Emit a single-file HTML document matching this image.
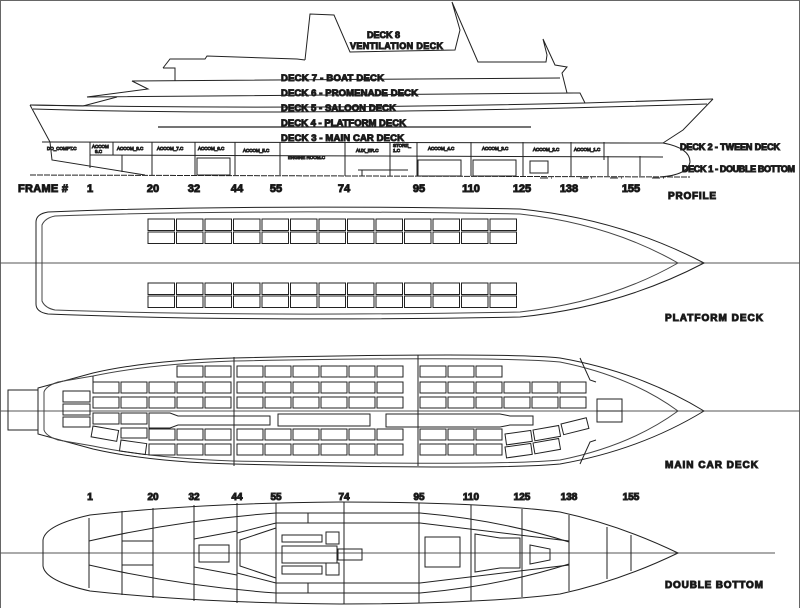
<!DOCTYPE html>
<html><head><meta charset="utf-8">
<style>
html,body{margin:0;padding:0;background:#fff;}
svg{display:block;}
text{font-family:"Liberation Sans",sans-serif;font-weight:bold;fill:#000;}
.s{font-size:4.5px;font-weight:normal;}
</style></head><body>
<svg id="d" width="800" height="608" viewBox="0 0 800 608" xmlns="http://www.w3.org/2000/svg" fill="none" stroke="#222" stroke-width="1">
<rect x="0.5" y="0.5" width="799" height="620" stroke="#666"/>
<!-- PROFILE -->
<polyline points="305,60 310,14 334,15 350,52 455,50 460,30 452,2 478,62 546,62 547,55 543,39 555,65 567,67 562,73 567,93 580,93 585,103 713,99"/>
<polyline points="163,68 170,59 205,59 207,56 297,59 305,60"/>
<polyline points="163,68 175,68 175,81"/>
<polyline points="560,78 132,81 148,89 87,97 575,93"/>
<polyline points="117,97 83,106 30,105"/>
<path d="M30,105 Q300,110 585,103"/>
<path d="M33,109 Q300,117 707,104"/>
<line x1="158" y1="127" x2="531" y2="127" stroke-width="1.3"/>
<polyline points="713,99 683,130 663,143"/>
<line x1="42" y1="142" x2="663" y2="143"/>
<polyline points="30,105 50,142 52,160 145,175"/>
<path d="M610,143 L663,143 Q690,148 690,162 Q688,175 660,177"/>
<line x1="90" y1="155" x2="663" y2="157"/>
<line x1="30" y1="175" x2="690" y2="177" stroke-dasharray="6,1"/>
<g id="bh"></g>
<rect x="197" y="158" width="33" height="17"/>
<rect x="418" y="160" width="43" height="16"/>
<rect x="473" y="160" width="43" height="16"/>
<rect x="530" y="161" width="18" height="12"/>
<polyline points="390,155 390,170 408,170"/>
<line x1="358" y1="170" x2="400" y2="170"/>
<line x1="362" y1="170" x2="362" y2="176"/>
<text x="367" y="38" font-size="9">DECK 8</text>
<text x="350" y="49" font-size="9" textLength="93">VENTILATION DECK</text>
<text x="281" y="81" font-size="9.5" textLength="103">DECK 7 - BOAT DECK</text>
<text x="281" y="96" font-size="9.5" textLength="137">DECK 6 - PROMENADE DECK</text>
<text x="281" y="111" font-size="9.5" textLength="115">DECK 5 - SALOON DECK</text>
<text x="281" y="126" font-size="9.5" textLength="125">DECK 4 - PLATFORM DECK</text>
<text x="281" y="141" font-size="9.5" textLength="123">DECK 3 - MAIN CAR DECK</text>
<text x="680" y="150" font-size="9" textLength="100">DECK 2 - TWEEN DECK</text>
<text x="682" y="172" font-size="9" textLength="113">DECK 1 - DOUBLE BOTTOM</text>
<text x="18" y="192" font-size="11" textLength="50">FRAME #</text>
<g id="fn1" font-size="11" text-anchor="middle"></g>
<text x="668" y="199" font-size="10" textLength="48">PROFILE</text>
<text class="s" x="47" y="150">DO_COMPT.C</text>
<text class="s" x="92" y="148">ACCOM</text><text class="s" x="95" y="153">9.C</text>
<text class="s" x="117" y="150">ACCOM_8.C</text>
<text class="s" x="157" y="150">ACCOM_7.C</text>
<text class="s" x="198" y="150">ACCOM_6.C</text>
<text class="s" x="243" y="152">ACCOM_5.C</text>
<text class="s" x="288" y="159">ENGINE ROOM.C</text>
<text class="s" x="356" y="152">AUX_ER.C</text>
<text class="s" x="393" y="147">STORE_</text><text class="s" x="393" y="152">1.C</text>
<text class="s" x="428" y="150">ACCOM_4.C</text>
<text class="s" x="482" y="150">ACCOM_3.C</text>
<text class="s" x="533" y="151">ACCOM_2.C</text>
<text class="s" x="574" y="151">ACCOM_1.C</text>

<!-- PLATFORM DECK -->
<line x1="0" y1="263" x2="800" y2="263" stroke="#555"/>
<path d="M36,222 Q36,214 48,212 Q250,204 520,209 Q620,219 704,263 Q620,307 520,317 Q250,322 48,314 Q36,312 36,304 Z"/>
<path d="M42,225 Q45,218 55,216 Q250,209 520,214 Q610,224 678,263 Q610,302 520,312 Q250,317 55,310 Q45,308 42,301 Z" stroke="#444"/>
<g id="pd"></g>
<text x="665" y="321" font-size="10" textLength="98">PLATFORM DECK</text>

<!-- MAIN CAR DECK -->
<line x1="0" y1="411" x2="800" y2="411" stroke="#555"/>
<rect x="8" y="390" width="30" height="40"/>
<path d="M38,388 L93,373 Q150,360 233,358 Q500,352 560,358 Q640,372 704,411 Q640,450 560,464 Q500,470 233,464 Q150,462 93,449 L38,434 Z"/>
<path d="M44,392 Q46,386 58,382 L93,376 Q150,364 233,361 Q500,356 560,362 Q630,376 678,411 Q630,446 560,460 Q500,466 233,461 Q150,458 93,446 L58,440 Q46,436 44,430 Z" stroke="#444"/>
<line x1="234" y1="357" x2="234" y2="466"/>
<line x1="418" y1="355" x2="418" y2="466"/>
<polyline points="580,358 590,380 596,382"/>
<polyline points="580,464 590,442 596,440"/>
<polyline points="93,376 93,383"/>
<g id="md"></g>
<path d="M149,413 L170,413 L178,416 L270,416 L270,425 L178,425 L170,428 L149,428 Z"/>
<rect x="278" y="414" width="92" height="12"/>
<path d="M386,414 L500,414 L510,416 L533,416 L533,425 L510,425 L500,427 L386,427 Z"/>
<rect x="597" y="399" width="25" height="23"/>
<line x1="597" y1="411" x2="622" y2="411"/>
<text x="665" y="468" font-size="10" textLength="93">MAIN CAR DECK</text>

<!-- DOUBLE BOTTOM -->
<g id="fn2" font-size="10" text-anchor="middle"></g>
<line x1="0" y1="553" x2="775" y2="553" stroke="#555"/>
<path d="M43,540 Q45,525 90,515 Q200,503 340,502 Q480,502 560,512 Q620,525 678,553 Q620,581 560,594 Q480,604 340,604 Q200,603 90,591 Q45,581 43,566 Z"/>
<path d="M89,541 Q180,520 276,513 L420,513 Q500,520 569,542"/>
<path d="M89,565 Q180,586 276,593 L420,593 Q500,586 569,564"/>
<path d="M153,531 L153,575"/>
<rect x="122" y="541" width="31" height="24"/>
<path d="M194,539 L237,531 L237,575 L194,567 Z"/>
<rect x="199" y="545" width="30" height="17"/>
<path d="M237,533 L276,523 L420,523 L569,541 L569,565 L420,583 L276,583 L237,573 Z"/>
<path d="M240,540 L276,528 L276,578 L240,566 Z"/>
<rect x="282" y="535" width="40" height="7"/><rect x="326" y="532" width="13" height="12"/>
<rect x="282" y="546" width="55" height="17"/><rect x="338" y="549" width="24" height="11"/>
<rect x="282" y="566" width="40" height="8"/><rect x="326" y="563" width="13" height="12"/>
<rect x="425" y="537" width="35" height="30"/>
<path d="M475,534 L500,538 L520,538 L520,568 L500,568 L475,572 Z"/>
<path d="M530,545 L550,549 L550,560 L530,564 Z"/>
<line x1="308" y1="513" x2="308" y2="523"/><line x1="308" y1="583" x2="308" y2="593"/>
<g id="db"></g>
<text x="665" y="588" font-size="10" textLength="98">DOUBLE BOTTOM</text>
</svg>
<script>
var NS="http://www.w3.org/2000/svg";
function el(p,t,a,txt){var e=document.createElementNS(NS,t);for(var k in a)e.setAttribute(k,a[k]);if(txt)e.textContent=txt;document.getElementById(p).appendChild(e);}
[[90,142,168],[113,142,155],[122,155,172],[152,142,175],[195,142,175],[235,142,175],[280,142,175],[345,142,176],[390,142,176],[417,142,176],[471,142,176],[523,142,176],[571,142,176],[604,142,160],[608,156,176],[640,156,176]].forEach(function(b){el("bh","line",{x1:b[0],y1:b[1],x2:b[0],y2:b[2]});});
[[540,178],[580,178],[610,178],[652,178]].forEach(function(b){el("bh","line",{x1:b[0],y1:b[1],x2:b[0]+12,y2:b[1],"stroke-dasharray":"8,3"});});
var fx=[90,153,194,237,276,344,419,471,522,569,631],fl=["1","20","32","44","55","74","95","110","125","138","155"];
fx.forEach(function(x,i){el("fn1","text",{x:x,y:192},fl[i]);el("fn2","text",{x:x,y:500},fl[i]);});
[[219],[232],[283],[296]].forEach(function(r){for(var i=0;i<13;i++)el("pd","rect",{x:148+i*28.5,y:r[0],width:26.5,height:11.5});});
var cols=[93,121,149,177,205,237,265,293,321,349,377,420,448,476,504,532,560];
function row(y,list){list.forEach(function(x){el("md","rect",{x:x,y:y,width:26,height:11});});}
row(366,[177,205,237,265,293,321,349,377,420,448,476]);
row(382,cols);
row(397,cols);
row(413,[93,121]);
row(429,[149,177,205,237,265,293,321,349,377,420,448,476]);
row(444,[149,177,205,237,265,293,321,349,377,420,448,476]);
el("md","rect",{x:63,y:391,width:27,height:11});
el("md","rect",{x:63,y:404,width:27,height:11});
el("md","rect",{x:63,y:417,width:27,height:10});
el("md","rect",{x:121,y:428,width:26,height:10});
[[93,426,10],[121,440,8]].forEach(function(b){el("md","rect",{x:b[0],y:b[1],width:26,height:11,transform:"rotate("+b[2]+" "+b[0]+" "+b[1]+")"});});
[[505,434,-8],[533,430,-10],[561,424,-14],[505,447,-8],[533,443,-10]].forEach(function(b){el("md","rect",{x:b[0],y:b[1],width:26,height:11,transform:"rotate("+b[2]+" "+b[0]+" "+b[1]+")"});});
[[89,518,588],[122,511,595],[153,508,598],[194,505,601],[237,503,603],[276,503,603],[344,502,604],[419,503,603],[471,505,601],[522,509,597],[569,515,591],[607,527,579],[631,535,571]].forEach(function(v){el("db","line",{x1:v[0],y1:v[1],x2:v[0],y2:v[2]});});
</script>
</body></html>
